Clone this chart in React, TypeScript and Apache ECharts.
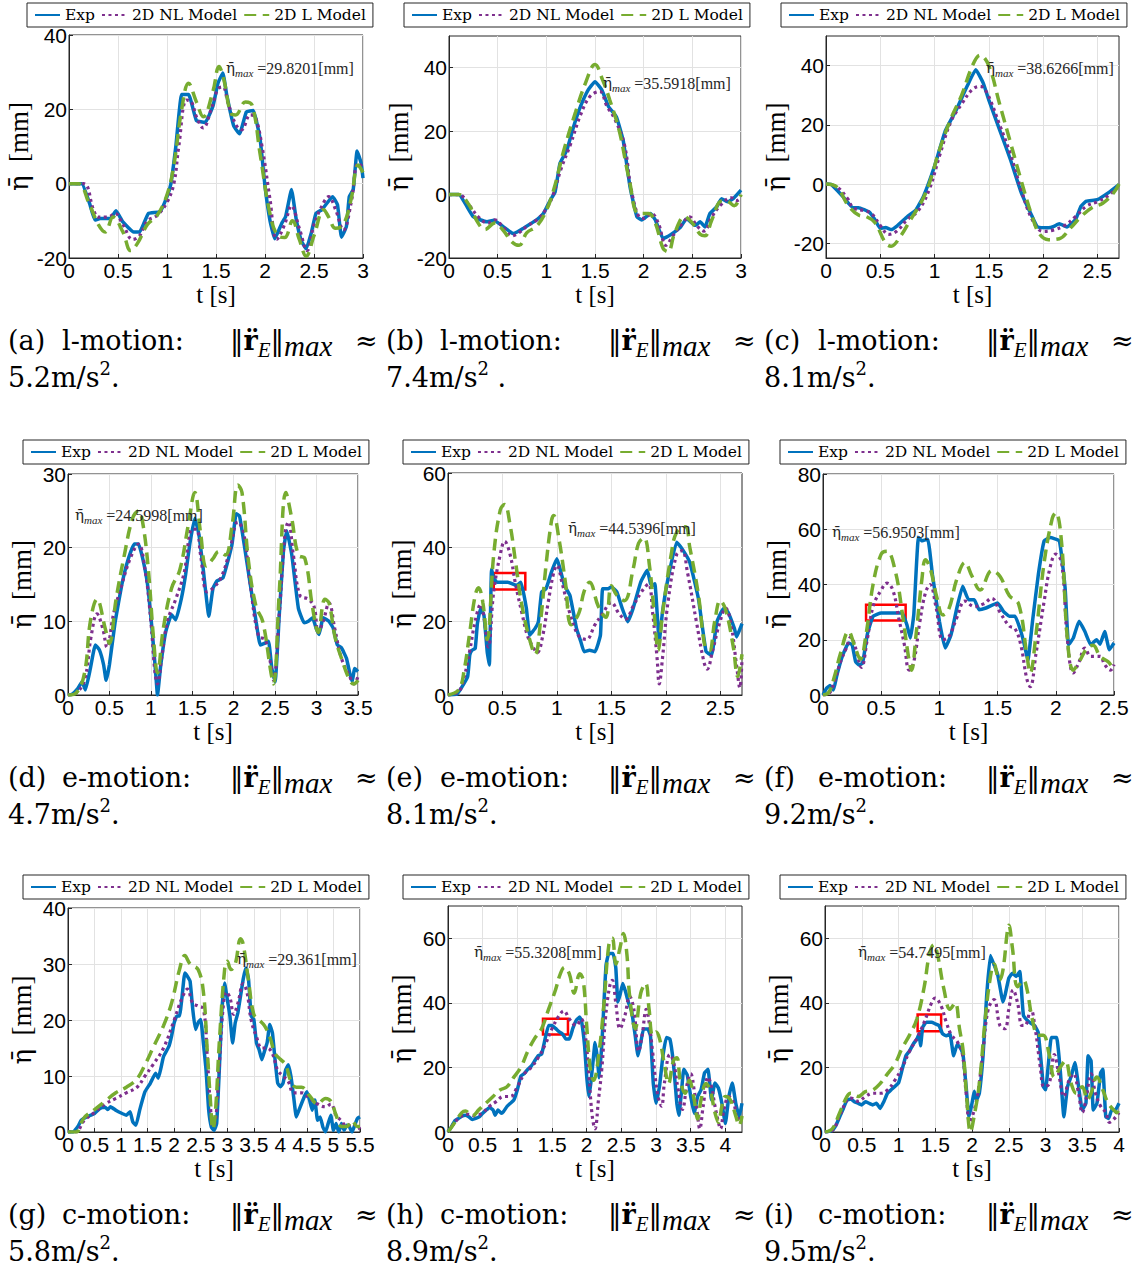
import React, { useEffect, useRef } from 'react';
import * as echarts from 'echarts';

type Pt = [number, number];

// ---------------- data (t [s], eta [mm]) ----------------
const A_EXP: Pt[] = [[0,0],[0.13,0],[0.21,-5.3],[0.265,-9.8],[0.32,-9.4],[0.42,-9.4],[0.48,-7.3],[0.55,-10.3],[0.66,-13],[0.72,-13],[0.81,-8],[0.93,-7.5],[1.0,-3.5],[1.04,0],[1.09,10],[1.15,24],[1.22,24],[1.3,17],[1.39,16.5],[1.47,21],[1.52,27],[1.57,29.8],[1.61,23.8],[1.68,15.6],[1.74,13.4],[1.81,19.3],[1.88,19.7],[1.95,12],[2.0,-0.7],[2.05,-9.8],[2.1,-14.8],[2.17,-10.7],[2.21,-8.9],[2.27,-1.6],[2.32,-9.8],[2.37,-15.3],[2.42,-17.5],[2.47,-13.5],[2.52,-8],[2.58,-7],[2.69,-3.5],[2.74,-5.7],[2.78,-14.4],[2.83,-11.6],[2.86,-3.5],[2.9,-1.6],[2.94,8.8],[2.98,5.6],[3.0,1.5]];
const A_NL: Pt[] = [[0,0],[0.15,0],[0.25,-7],[0.3,-9],[0.4,-9],[0.47,-8],[0.55,-11],[0.65,-15],[0.72,-14],[0.8,-10],[0.9,-8.5],[1.0,-5],[1.07,0],[1.12,10],[1.2,22.5],[1.25,22],[1.3,18],[1.37,15],[1.45,20],[1.52,25.5],[1.57,26],[1.62,22],[1.7,16],[1.76,14.5],[1.85,18.5],[1.9,18],[1.97,10],[2.05,-4],[2.12,-15],[2.2,-11],[2.27,-6],[2.35,-12],[2.43,-18],[2.5,-11],[2.6,-5],[2.65,-3.5],[2.72,-7],[2.8,-12.5],[2.88,-5],[2.95,5.5],[3.0,4.5]];
const A_L: Pt[] = [[0,0],[0.1,0],[0.2,-5],[0.3,-11],[0.37,-13],[0.45,-9],[0.55,-13],[0.63,-18],[0.7,-16],[0.8,-11],[0.9,-8.5],[1.0,-3],[1.07,5],[1.15,20],[1.22,27],[1.3,22],[1.37,18],[1.47,25],[1.53,31.5],[1.58,28],[1.65,19],[1.7,18.5],[1.8,22],[1.87,21],[1.95,8],[2.05,-8],[2.13,-14],[2.2,-14.5],[2.28,-10],[2.35,-15],[2.42,-19.5],[2.5,-14],[2.6,-7],[2.65,-9],[2.72,-12],[2.8,-11],[2.88,-4],[2.95,5],[3.0,3]];

const B_EXP: Pt[] = [[0,0],[0.1,0],[0.25,-7],[0.39,-8.6],[0.46,-8.1],[0.56,-10.2],[0.66,-12.3],[0.7,-11.8],[0.76,-10.7],[0.9,-8],[0.97,-6],[1.04,-1.8],[1.09,0.8],[1.14,9.8],[1.21,14],[1.28,21.4],[1.35,27.7],[1.43,33],[1.5,35.6],[1.57,33],[1.64,27.7],[1.72,24.5],[1.79,17],[1.86,2.4],[1.93,-7],[1.98,-8],[2.07,-6],[2.12,-8],[2.2,-13.9],[2.27,-12.8],[2.38,-10.2],[2.44,-7.6],[2.53,-9.7],[2.58,-8.6],[2.63,-10.2],[2.68,-6],[2.75,-3.9],[2.8,-1.3],[2.86,-2.3],[2.92,-1.3],[3.0,1.4]];
const B_NL: Pt[] = [[0,0],[0.1,0],[0.2,-3],[0.3,-7],[0.4,-9],[0.47,-8],[0.55,-10],[0.65,-13],[0.72,-12],[0.8,-10],[0.9,-8],[1.0,-4.5],[1.07,0],[1.15,8],[1.25,16],[1.35,25],[1.45,31],[1.55,32.5],[1.62,28],[1.7,24],[1.8,16],[1.87,2],[1.95,-7],[2.0,-7.5],[2.08,-6],[2.15,-9],[2.23,-16],[2.3,-13],[2.4,-9],[2.47,-7],[2.55,-10],[2.62,-11.5],[2.7,-7],[2.8,-3],[2.9,-1],[2.95,-2],[3.0,-1]];
const B_L: Pt[] = [[0,0],[0.1,0],[0.2,-3],[0.3,-9],[0.37,-11],[0.47,-9],[0.55,-11],[0.65,-15],[0.72,-16],[0.8,-12],[0.9,-10],[1.0,-5],[1.08,2],[1.18,14],[1.3,26],[1.4,35],[1.5,41],[1.58,36],[1.65,30],[1.75,20],[1.85,5],[1.95,-6],[2.05,-6],[2.12,-9],[2.2,-17],[2.25,-18],[2.32,-12],[2.42,-7],[2.5,-9],[2.58,-12.5],[2.63,-13],[2.7,-8],[2.8,-2],[2.85,-2],[2.93,-3.5],[3.0,0]];

const C_EXP: Pt[] = [[0,0],[0.05,-0.2],[0.15,-4],[0.25,-8],[0.3,-8],[0.4,-9.5],[0.45,-12],[0.5,-15],[0.55,-14.7],[0.6,-15.4],[0.65,-14.3],[0.75,-11],[0.83,-8.7],[0.9,-4],[1.0,6],[1.1,18],[1.2,25],[1.3,33],[1.38,38.6],[1.45,34],[1.5,28.4],[1.6,18.3],[1.7,8.2],[1.8,-3],[1.9,-11],[1.95,-14.5],[2.05,-14.8],[2.1,-14.3],[2.15,-13.4],[2.22,-14.5],[2.3,-12],[2.35,-7.5],[2.4,-5.8],[2.5,-5.3],[2.6,-3],[2.7,-0.2]];
const C_NL: Pt[] = [[0,0],[0.1,-1],[0.2,-5],[0.25,-8],[0.35,-9],[0.42,-10],[0.5,-14],[0.58,-17],[0.65,-16],[0.75,-12],[0.85,-9],[0.95,-2],[1.05,10],[1.15,21],[1.25,27],[1.35,32],[1.42,33],[1.48,31],[1.6,20],[1.7,10],[1.8,-2],[1.9,-12],[2.0,-16],[2.1,-15.5],[2.2,-14],[2.3,-11],[2.4,-7.5],[2.5,-6],[2.6,-4],[2.7,-0.5]];
const C_L: Pt[] = [[0,0],[0.1,-1],[0.2,-7],[0.3,-10.5],[0.37,-11],[0.45,-13],[0.55,-20],[0.6,-21],[0.68,-18],[0.78,-12],[0.88,-6],[0.95,0],[1.05,12],[1.15,22],[1.25,30],[1.35,40],[1.42,43.5],[1.5,40],[1.6,27],[1.7,14],[1.8,1],[1.9,-11],[1.97,-17],[2.05,-18.8],[2.15,-18.5],[2.25,-15],[2.35,-11],[2.45,-8],[2.55,-6.5],[2.65,-3],[2.7,0]];

const D_EXP: Pt[] = [[0,0],[0.05,0.1],[0.12,0.9],[0.17,1.8],[0.21,0.7],[0.27,3.6],[0.33,6.8],[0.38,6.1],[0.43,4.1],[0.46,2],[0.5,4.1],[0.57,10],[0.65,15],[0.72,18.2],[0.8,20.5],[0.85,20.5],[0.9,18.6],[0.96,15],[1.02,8.2],[1.06,2.7],[1.08,0],[1.12,4.1],[1.18,8.6],[1.25,10.9],[1.3,10.2],[1.37,13.2],[1.42,16.4],[1.47,20.5],[1.53,24],[1.58,21.8],[1.63,17.3],[1.7,10.7],[1.75,14.5],[1.8,15.5],[1.87,15.9],[1.93,18.2],[1.98,20.5],[2.03,24.6],[2.07,24.3],[2.12,20.9],[2.2,15],[2.27,10],[2.32,6.8],[2.37,7],[2.42,7.3],[2.46,3.6],[2.5,1.8],[2.55,10.9],[2.6,19.5],[2.64,22.3],[2.7,19.1],[2.78,11.8],[2.85,9.8],[2.9,10],[2.95,10.5],[3.0,8.9],[3.03,8.2],[3.08,10.5],[3.15,10],[3.2,9.1],[3.25,6.8],[3.3,6.4],[3.36,5],[3.4,3],[3.43,1.8],[3.46,3.6],[3.5,3.2]];
const D_NL: Pt[] = [[0,0],[0.1,0.3],[0.2,2],[0.28,8],[0.35,11],[0.42,9],[0.47,6.5],[0.55,11],[0.65,15],[0.75,18.5],[0.85,20.5],[0.93,17],[1.0,10],[1.05,3],[1.08,1.5],[1.13,5],[1.2,10],[1.3,13],[1.4,16.5],[1.5,22.5],[1.55,22.5],[1.6,19],[1.68,14],[1.75,14.5],[1.85,16],[1.95,19.5],[2.05,23.5],[2.12,22],[2.2,15],[2.3,8],[2.38,7.5],[2.45,4],[2.48,2],[2.55,11],[2.62,22],[2.66,23.5],[2.72,19],[2.8,13.5],[2.9,13],[2.97,12],[3.02,8.5],[3.08,10],[3.15,12.5],[3.22,9],[3.3,5],[3.4,2.5],[3.45,1.5],[3.5,2.5]];
const D_L: Pt[] = [[0,0],[0.1,0.3],[0.2,3],[0.27,10],[0.35,13],[0.45,9],[0.5,7],[0.58,13],[0.68,19],[0.78,24],[0.85,25],[0.9,23.5],[0.97,17],[1.03,8],[1.08,3],[1.15,9],[1.25,14.5],[1.35,17],[1.45,23],[1.53,27.5],[1.6,22],[1.67,17.5],[1.75,18.5],[1.82,19.5],[1.9,19],[1.98,23],[2.05,28.5],[2.1,27.5],[2.18,18],[2.27,12],[2.35,10],[2.45,3],[2.48,1.5],[2.55,14],[2.63,27.5],[2.7,24],[2.78,19],[2.86,18.5],[2.95,12],[3.02,8.5],[3.1,13],[3.15,12.5],[3.22,8],[3.3,5],[3.4,2],[3.45,1.5],[3.5,2]];

const E_EXP: Pt[] = [[0,0],[0.08,0.2],[0.12,1.8],[0.18,4.9],[0.2,10.8],[0.22,12.1],[0.25,12.6],[0.27,19.3],[0.3,23.4],[0.33,21.6],[0.36,11.7],[0.38,8.1],[0.4,34],[0.42,31.5],[0.45,30.5],[0.55,30.5],[0.63,29.6],[0.67,30.5],[0.72,23.4],[0.75,16.2],[0.8,18],[0.83,19.8],[0.86,27.9],[0.9,28.7],[0.95,33.2],[1.0,36.8],[1.03,34],[1.07,29.6],[1.12,26.9],[1.18,18],[1.22,14.4],[1.25,11.7],[1.3,12.1],[1.35,11.7],[1.4,16.2],[1.42,28.7],[1.47,28.7],[1.5,29.2],[1.55,27.9],[1.6,23.4],[1.65,19.8],[1.7,23.4],[1.77,30.5],[1.83,33.7],[1.86,30.1],[1.88,29.6],[1.9,30.1],[1.94,14.4],[1.97,22.5],[2.02,31.4],[2.1,41.3],[2.15,39.5],[2.22,35.9],[2.3,26],[2.37,11.7],[2.42,10.8],[2.47,19.8],[2.53,23.4],[2.57,22.5],[2.63,18],[2.65,15.7],[2.7,19.3]];
const E_NL: Pt[] = [[0,0],[0.1,1],[0.15,5],[0.2,12],[0.25,20],[0.3,24.5],[0.33,21],[0.37,13],[0.42,28],[0.48,38],[0.52,41.5],[0.57,38],[0.62,30],[0.68,22],[0.73,16],[0.78,13],[0.82,11.5],[0.87,16],[0.92,25],[0.97,33],[1.0,35],[1.05,30],[1.12,22],[1.2,16],[1.27,15],[1.35,19],[1.42,22],[1.5,25],[1.57,22],[1.63,20.5],[1.7,24],[1.78,28],[1.84,30],[1.88,22],[1.92,10],[1.94,3],[1.97,10],[2.02,25],[2.1,38],[2.15,39],[2.2,33],[2.28,20],[2.35,9],[2.38,7],[2.43,12],[2.5,20],[2.55,23.5],[2.6,19],[2.65,8],[2.68,2],[2.7,10]];
const E_L: Pt[] = [[0,0],[0.1,1.5],[0.15,7],[0.2,17],[0.25,27],[0.28,29],[0.32,25],[0.36,15],[0.42,38],[0.48,50],[0.52,51.5],[0.57,46],[0.62,36],[0.68,24],[0.75,15],[0.8,11],[0.85,20],[0.9,35],[0.95,47],[0.97,48.5],[1.02,42],[1.08,30],[1.13,19],[1.2,22],[1.25,28],[1.3,30.5],[1.38,24],[1.45,21],[1.5,29.5],[1.55,27],[1.62,25.5],[1.7,34],[1.75,41],[1.8,42.5],[1.85,35],[1.9,20],[1.93,12],[1.97,22],[2.05,38],[2.1,44],[2.18,45.5],[2.22,40],[2.3,27],[2.36,13],[2.4,12],[2.45,20],[2.5,25.5],[2.55,23],[2.62,13],[2.66,5],[2.7,11]];

const F_EXP: Pt[] = [[0,0],[0.03,2.4],[0.06,3.4],[0.09,1.8],[0.12,7.3],[0.17,14.5],[0.22,18.8],[0.25,18.2],[0.28,12.1],[0.31,10.9],[0.34,11.5],[0.38,21.8],[0.43,28.5],[0.5,29.7],[0.6,29.7],[0.68,29.7],[0.72,25.5],[0.75,20.6],[0.78,29.1],[0.82,57],[0.85,55.8],[0.9,56.4],[0.94,43.6],[1.0,26.7],[1.05,17],[1.1,21.8],[1.15,31.5],[1.2,39.4],[1.25,34.5],[1.3,34.5],[1.34,30.9],[1.4,31.5],[1.5,33.3],[1.55,30.3],[1.6,28.5],[1.65,28.5],[1.7,23],[1.73,18.2],[1.76,12.5],[1.8,26.7],[1.85,43.6],[1.9,55.8],[1.95,57],[2.03,55.8],[2.08,38.8],[2.11,18.2],[2.15,20.6],[2.2,26.7],[2.25,23],[2.3,18.2],[2.35,20],[2.38,18.4],[2.42,23],[2.46,16.4],[2.5,18.8]];
const F_NL: Pt[] = [[0,0],[0.05,0.5],[0.1,5],[0.15,12],[0.2,17],[0.24,21],[0.28,17],[0.33,10],[0.38,20],[0.43,32],[0.5,38],[0.55,40.5],[0.6,38],[0.65,28],[0.7,18],[0.74,9],[0.78,12],[0.83,26],[0.88,37],[0.92,40],[0.97,32],[1.03,20],[1.08,21],[1.15,28],[1.22,34],[1.3,32],[1.38,33],[1.45,35],[1.52,30],[1.6,25],[1.65,24],[1.7,18],[1.75,6],[1.78,3],[1.83,15],[1.9,34],[1.95,46],[2.0,51],[2.05,48],[2.1,20],[2.15,8],[2.2,12],[2.25,17],[2.3,14],[2.38,14],[2.42,11],[2.47,9],[2.5,11]];
const F_L: Pt[] = [[0,0],[0.05,1],[0.1,7],[0.15,15],[0.22,23],[0.27,18],[0.32,13],[0.37,22],[0.43,40],[0.5,51],[0.55,52],[0.62,45],[0.68,30],[0.73,15],[0.76,9],[0.8,22],[0.85,42],[0.88,49],[0.92,46],[0.98,35],[1.03,29],[1.08,31],[1.15,42],[1.22,48],[1.28,43],[1.35,38],[1.45,45],[1.52,43],[1.6,36],[1.68,33],[1.75,15],[1.78,8],[1.83,22],[1.9,48],[1.97,64],[2.0,66],[2.05,55],[2.1,20],[2.15,9],[2.2,12],[2.27,17],[2.32,18],[2.38,14],[2.45,12],[2.5,9]];

const G_EXP: Pt[] = [[0,0],[0.1,0],[0.2,1.2],[0.25,2.1],[0.35,2.7],[0.5,3.3],[0.6,4.2],[0.7,4.4],[0.75,4],[0.8,4.5],[0.9,3.9],[1.0,3.4],[1.1,3],[1.17,3.6],[1.22,1.8],[1.28,1.2],[1.35,3.9],[1.45,7.2],[1.55,8.7],[1.65,10.5],[1.7,9.6],[1.75,11.4],[1.8,13.5],[1.9,15.3],[1.95,17.1],[2.0,19.5],[2.05,20.7],[2.1,20.7],[2.15,24.3],[2.2,28.4],[2.25,27.8],[2.3,26.9],[2.35,21.9],[2.4,18.3],[2.45,19.5],[2.5,20.1],[2.55,15.9],[2.6,11.1],[2.65,3.9],[2.7,0.9],[2.75,0.3],[2.8,1.5],[2.85,11.1],[2.9,21.9],[2.95,26.6],[3.0,23.7],[3.05,20.7],[3.1,15.9],[3.15,19.5],[3.2,21.3],[3.3,27.3],[3.35,29.3],[3.4,27.3],[3.45,20.7],[3.5,20.1],[3.55,15.9],[3.6,14.7],[3.65,12.9],[3.7,14.4],[3.75,15.9],[3.8,19.2],[3.85,17.7],[3.9,12.9],[3.95,8.7],[4.0,8.1],[4.05,8.7],[4.1,11.1],[4.15,12],[4.2,9.9],[4.25,6.3],[4.3,2.7],[4.35,3.9],[4.45,6.3],[4.5,7.2],[4.55,5.7],[4.6,3.9],[4.65,5.7],[4.7,2.1],[4.75,2.7],[4.8,0.9],[4.85,0],[4.9,1.5],[4.95,3],[5.0,0.3],[5.05,1.5],[5.1,0],[5.15,1.5],[5.2,0.3],[5.25,1.2],[5.3,0.9],[5.35,0],[5.4,1.2],[5.45,2.4],[5.5,2.7]];
const G_NL: Pt[] = [[0,0],[0.15,0],[0.3,2],[0.5,3.5],[0.7,5],[0.9,6],[1.1,7],[1.3,8],[1.45,10],[1.6,12],[1.8,15],[2.0,20],[2.15,24],[2.25,25.5],[2.35,23],[2.45,22.5],[2.55,22],[2.62,14],[2.68,5],[2.73,1],[2.78,2],[2.85,12],[2.92,22],[2.98,25],[3.05,24],[3.12,21],[3.2,23],[3.3,26.5],[3.37,25],[3.45,20],[3.55,17],[3.65,15],[3.75,15],[3.85,14],[3.95,11],[4.05,10],[4.15,9],[4.25,7],[4.4,7],[4.55,6],[4.7,5],[4.85,4.5],[4.95,5],[5.05,3],[5.15,2],[5.25,1],[5.35,1.5],[5.45,1],[5.5,0.5]];
const G_L: Pt[] = [[0,0],[0.15,0],[0.3,2.5],[0.5,4],[0.7,5.5],[0.9,7],[1.1,8],[1.3,9.5],[1.45,12],[1.6,15],[1.8,19],[1.95,23],[2.1,29],[2.2,31.5],[2.3,30],[2.45,29],[2.55,25],[2.62,15],[2.68,6],[2.73,0.5],[2.78,4],[2.85,16],[2.95,29],[3.0,30.5],[3.07,29],[3.15,30],[3.25,34.5],[3.3,33.5],[3.4,27],[3.5,21],[3.6,20],[3.7,19],[3.8,17],[3.9,14],[4.0,13],[4.1,12],[4.2,9],[4.3,8],[4.4,8],[4.55,6.5],[4.7,5],[4.85,6],[4.95,5.5],[5.05,3],[5.15,1],[5.25,1],[5.35,2],[5.45,1],[5.5,1]];

const H_EXP: Pt[] = [[0,0],[0.05,1.6],[0.1,3.5],[0.15,4.2],[0.2,4.9],[0.25,5.2],[0.3,4.7],[0.35,3.9],[0.4,4.2],[0.45,4.7],[0.5,5.8],[0.55,6.8],[0.6,7.6],[0.65,6.8],[0.68,5.2],[0.72,6.8],[0.77,5.8],[0.8,6.3],[0.85,7.9],[0.9,8.9],[0.95,9.9],[1.0,13.1],[1.05,17.3],[1.1,18.1],[1.15,19.4],[1.2,20.4],[1.25,22],[1.3,23.6],[1.35,24.1],[1.4,28.8],[1.45,33],[1.5,33],[1.55,32.1],[1.6,31.1],[1.65,30.4],[1.7,28.8],[1.75,28.8],[1.8,32.1],[1.85,34.6],[1.9,35.6],[1.93,33.8],[1.97,26.7],[2.0,17.3],[2.03,11],[2.06,15.2],[2.1,23.6],[2.12,27.7],[2.15,23.6],[2.18,16.8],[2.22,27.7],[2.25,40.3],[2.28,51.8],[2.32,55.3],[2.38,55.3],[2.42,50.8],[2.45,40.3],[2.48,42.4],[2.52,46],[2.56,43.5],[2.6,40.3],[2.65,37.2],[2.7,29.8],[2.74,23.6],[2.78,27.7],[2.82,31.9],[2.88,31.9],[2.92,29.8],[2.96,15.2],[3.0,8.9],[3.05,14.1],[3.1,23.6],[3.15,29.3],[3.2,28.8],[3.25,21.5],[3.3,8.9],[3.33,5.2],[3.37,13.1],[3.4,19.4],[3.45,17.7],[3.5,11],[3.55,5.8],[3.6,11],[3.65,13.1],[3.7,18.3],[3.75,19.4],[3.8,9.9],[3.85,15.2],[3.9,13.6],[3.95,8.9],[4.0,2.6],[4.05,11],[4.1,15.2],[4.15,8.9],[4.2,4.7],[4.24,8.9]];
const H_NL: Pt[] = [[0,0],[0.1,3],[0.2,5],[0.3,5.5],[0.4,5],[0.5,6],[0.6,8],[0.7,9.5],[0.8,11],[0.9,11],[1.0,14],[1.1,18],[1.2,20],[1.3,23],[1.4,27],[1.5,32],[1.6,36],[1.67,37.5],[1.75,35],[1.85,33],[1.92,35],[1.98,30],[2.03,18],[2.08,5],[2.12,1],[2.17,10],[2.22,20],[2.27,35],[2.33,45],[2.37,47],[2.42,40],[2.48,32],[2.55,36],[2.62,42],[2.68,38],[2.75,25],[2.8,30],[2.86,38],[2.9,34],[2.95,25],[3.02,12],[3.08,8],[3.12,15],[3.2,24],[3.25,22],[3.32,13],[3.38,7],[3.45,15],[3.5,18],[3.55,13],[3.6,5],[3.63,1],[3.68,8],[3.75,17],[3.8,14],[3.85,8],[3.9,3],[3.93,1],[3.98,7],[4.05,11],[4.12,9],[4.18,4],[4.24,5]];
const H_L: Pt[] = [[0,0],[0.1,3],[0.2,6],[0.25,6.5],[0.35,5],[0.45,7],[0.55,9],[0.65,11],[0.75,13],[0.85,14],[0.95,17],[1.05,20],[1.15,25],[1.25,29],[1.35,32],[1.45,38],[1.55,44],[1.62,49],[1.68,51],[1.75,49],[1.82,43],[1.9,49],[1.95,47],[2.0,33],[2.05,20],[2.1,16],[2.18,25],[2.25,40],[2.32,58],[2.37,60],[2.42,52],[2.48,57],[2.53,61.5],[2.58,55],[2.62,42],[2.7,32],[2.78,43],[2.85,46],[2.9,38],[2.95,30],[3.0,31],[3.05,29],[3.12,21],[3.18,15],[3.25,22],[3.3,23],[3.35,16],[3.42,12],[3.48,16],[3.55,10],[3.6,4],[3.65,10],[3.72,15],[3.78,13],[3.85,6],[3.9,3],[3.95,8],[4.0,11],[4.07,10],[4.15,5],[4.2,2],[4.24,5]];

const I_EXP: Pt[] = [[0,0],[0.1,0.5],[0.15,2.1],[0.2,4.7],[0.25,7.3],[0.3,9.9],[0.35,10.2],[0.4,9.4],[0.45,8.9],[0.5,8.4],[0.55,9.4],[0.6,8.9],[0.65,8.4],[0.7,8.9],[0.75,7.3],[0.8,9.4],[0.85,12],[0.9,13.1],[1.0,15.2],[1.05,19.4],[1.1,23.6],[1.15,25.1],[1.2,27.2],[1.25,28.8],[1.28,30.4],[1.3,26.7],[1.33,32.5],[1.38,34],[1.45,34],[1.5,33.5],[1.55,33],[1.6,30.4],[1.65,29.8],[1.7,30.4],[1.75,23.6],[1.8,27.2],[1.85,25.7],[1.88,23.6],[1.92,14.1],[1.96,4.7],[2.0,8.9],[2.03,12.6],[2.06,9.9],[2.1,12],[2.15,23.6],[2.2,42.4],[2.25,54.7],[2.3,51.8],[2.35,48.7],[2.4,42.4],[2.42,40.3],[2.45,42.4],[2.5,47.6],[2.55,49.2],[2.6,48.2],[2.65,49.7],[2.7,36.1],[2.78,34],[2.85,33],[2.9,30.9],[2.95,19.4],[2.97,14.1],[3.0,13.1],[3.05,23.6],[3.08,29.3],[3.15,29.3],[3.2,19.4],[3.25,4.7],[3.3,14.1],[3.35,17.3],[3.4,21.5],[3.45,14.1],[3.5,6.8],[3.55,8.9],[3.58,23.6],[3.62,22],[3.65,6.8],[3.7,8.9],[3.75,18.3],[3.78,19.4],[3.82,4.7],[3.86,4.2],[3.9,6.8],[3.95,6.8],[4.0,8.9]];
const I_NL: Pt[] = [[0,0],[0.1,0.5],[0.2,5],[0.3,10],[0.35,10.5],[0.45,9.5],[0.55,11],[0.65,12],[0.75,12],[0.85,13],[0.95,16],[1.05,20],[1.15,25],[1.25,29],[1.35,34],[1.45,40],[1.5,41.5],[1.58,39],[1.65,34],[1.72,30],[1.8,28],[1.87,24],[1.92,12],[1.97,3],[2.02,6],[2.08,12],[2.15,25],[2.22,38],[2.3,41],[2.38,33],[2.45,32],[2.5,38],[2.56,44],[2.62,40],[2.68,33],[2.72,33],[2.8,38],[2.86,32],[2.93,20],[2.98,14],[3.05,15],[3.12,24],[3.18,18],[3.25,11],[3.32,16],[3.38,18],[3.45,12],[3.5,6],[3.55,10],[3.62,18],[3.68,12],[3.75,8],[3.82,6],[3.87,3],[3.93,4],[4.0,6]];
const I_L: Pt[] = [[0,0],[0.1,1],[0.2,6],[0.3,11],[0.35,12],[0.45,11],[0.55,12.5],[0.65,13],[0.75,15],[0.85,18],[0.95,21],[1.05,26],[1.15,30],[1.25,35],[1.35,45],[1.42,55],[1.48,58],[1.53,55],[1.62,44],[1.7,38],[1.77,40],[1.83,32],[1.88,25],[1.93,10],[1.98,0],[2.03,5],[2.1,15],[2.18,35],[2.25,48],[2.3,52],[2.37,47],[2.42,50],[2.48,62],[2.5,64],[2.55,57],[2.62,45],[2.7,47],[2.75,44],[2.82,35],[2.9,30],[2.97,30],[3.05,24],[3.12,17],[3.2,20],[3.27,22],[3.35,15],[3.42,12],[3.5,14],[3.57,10],[3.62,12],[3.7,17],[3.78,13],[3.85,9],[3.92,7],[3.97,6],[4.0,7]];

const SERIES_NAMES = ['Exp', '2D NL Model', '2D L Model'];
const PANEL_DATA: Pt[][][] = [
  [A_EXP, A_NL, A_L], [B_EXP, B_NL, B_L], [C_EXP, C_NL, C_L],
  [D_EXP, D_NL, D_L], [E_EXP, E_NL, E_L], [F_EXP, F_NL, F_L],
  [G_EXP, G_NL, G_L], [H_EXP, H_NL, H_L], [I_EXP, I_NL, I_L],
];
const X_MAX = [3, 3, 2.7, 3.5, 2.7, 2.5, 5.5, 4.24, 4];
const X_TICKS = [
  [0, 0.5, 1, 1.5, 2, 2.5, 3],
  [0, 0.5, 1, 1.5, 2, 2.5, 3],
  [0, 0.5, 1, 1.5, 2, 2.5],
  [0, 0.5, 1, 1.5, 2, 2.5, 3, 3.5],
  [0, 0.5, 1, 1.5, 2, 2.5],
  [0, 0.5, 1, 1.5, 2, 2.5],
  [0, 0.5, 1, 1.5, 2, 2.5, 3, 3.5, 4, 4.5, 5, 5.5],
  [0, 0.5, 1, 1.5, 2, 2.5, 3, 3.5, 4],
  [0, 0.5, 1, 1.5, 2, 2.5, 3, 3.5, 4],
];
const Y_MIN = [-20, -20, -25, 0, 0, 0, 0, 0, 0];
const Y_MAX = [40, 50, 50, 30, 60, 80, 40, 70, 70];
const Y_TICKS = [
  [-20, 0, 20, 40], [-20, 0, 20, 40], [-20, 0, 20, 40],
  [0, 10, 20, 30], [0, 20, 40, 60], [0, 20, 40, 60, 80],
  [0, 10, 20, 30, 40], [0, 20, 40, 60], [0, 20, 40, 60],
];
const ETA_MAX = ['29.8201', '35.5918', '38.6266', '24.5998', '44.5396', '56.9503', '29.361', '55.3208', '54.7495'];
// highlighted boxes [t0, y0, t1, y1]
const BOXES: (number[] | null)[] = [
  null, null, null,
  null, [0.42, 28.5, 0.71, 33], [0.37, 27, 0.71, 32.7],
  null, [1.37, 30.2, 1.73, 35.1], [1.26, 31.2, 1.58, 36.4],
];
const TAGS = ['(a)', '(b)', '(c)', '(d)', '(e)', '(f)', '(g)', '(h)', '(i)'];
const MOTIONS = ['l-motion:', 'l-motion:', 'l-motion:', 'e-motion:', 'e-motion:', 'e-motion:', 'c-motion:', 'c-motion:', 'c-motion:'];
const ACCEL_VAL = ['5.2', '7.4', '8.1', '4.7', '8.1', '9.2', '5.8', '8.9', '9.5'];
const ACCEL_END = ['.', ' .', '.', '.', '.', '.', '.', '.', '.'];

// ---------------- layout ----------------
const GRIDS = [
  { l: 69, t: 35, w: 294, h: 223 }, { l: 449, t: 36, w: 292, h: 222 }, { l: 826, t: 36, w: 293, h: 222 },
  { l: 68, t: 474, w: 290, h: 221 }, { l: 448, t: 473, w: 294, h: 222 }, { l: 823, t: 474, w: 291, h: 221 },
  { l: 68, t: 908, w: 292, h: 224 }, { l: 448, t: 906, w: 294, h: 226 }, { l: 825, t: 906, w: 294, h: 226 },
];
const LEGEND_POS = [
  [27, 3], [404, 3], [781, 3],
  [23, 440], [403, 440], [780, 440],
  [23, 875], [403, 875], [780, 875],
];
const NOTE_POS = [
  [226, 68], [603, 83], [986, 68],
  [75, 515], [568, 528], [832, 532],
  [237, 959], [474, 952], [858, 952],
];
const COL_X = [8, 386, 764];
const ROW_Y = [340, 777, 1214];

const COLORS = ['#0072BD', '#7E2F8E', '#77AC30'];
const AX = '#262626';

function buildOption() {
  const grid = GRIDS.map((g) => ({
    left: g.l, top: g.t, width: g.w, height: g.h,
    show: true, borderColor: AX, borderWidth: 1, backgroundColor: 'transparent',
    containLabel: false, outerBoundsMode: 'none',
  }));
  const splitLine = { show: true, lineStyle: { color: '#e2e2e2', width: 1 } };
  const xAxis = GRIDS.map((_, i) => ({
    type: 'value', gridIndex: i, min: 0, max: X_MAX[i],
    axisLine: { show: true, onZero: false, lineStyle: { color: AX } },
    axisTick: { show: true, inside: true, length: 4, customValues: X_TICKS[i], lineStyle: { color: AX } },
    axisLabel: { customValues: X_TICKS[i], color: '#000', fontFamily: 'Liberation Sans', fontSize: 21, margin: 2 },
    splitLine,
    name: 't [s]', nameLocation: 'middle', nameGap: 22,
    nameTextStyle: { fontFamily: 'Liberation Serif', fontSize: 25, color: '#000' },
  }));
  const yAxis = GRIDS.map((_, i) => ({
    type: 'value', gridIndex: i, min: Y_MIN[i], max: Y_MAX[i],
    axisLine: { show: true, onZero: false, lineStyle: { color: AX } },
    axisTick: { show: true, inside: true, length: 4, customValues: Y_TICKS[i], lineStyle: { color: AX } },
    axisLabel: { customValues: Y_TICKS[i], color: '#000', fontFamily: 'Liberation Sans', fontSize: 21, margin: 2 },
    splitLine,
    name: '{e|η̄}  [mm]', nameLocation: 'middle', nameGap: 33, nameRotate: 90,
    nameTextStyle: {
      fontFamily: 'Liberation Serif', fontSize: 27, color: '#000',
      rich: { e: { fontFamily: 'DejaVu Serif', fontSize: 26, color: '#000' } },
    },
  }));
  const lineStyles = [
    { color: COLORS[0], width: 3.5, type: 'solid' },
    { color: COLORS[1], width: 3.2, type: [3, 3.5], cap: 'butt' },
    { color: COLORS[2], width: 3.5, type: [12, 6.5], cap: 'butt' },
  ];
  const smooth = [0.12, 0.4, 0.4];
  const series: any[] = [];
  PANEL_DATA.forEach((trio, i) => {
    trio.forEach((data, k) => {
      const s: any = {
        type: 'line', name: SERIES_NAMES[k], xAxisIndex: i, yAxisIndex: i,
        data, symbol: 'none', showSymbol: false, smooth: smooth[k],
        lineStyle: lineStyles[k], itemStyle: { color: COLORS[k] },
        emphasis: { disabled: true }, silent: true, z: 2 + k,
      };
      const b = BOXES[i];
      if (k === 0 && b) {
        s.markArea = {
          silent: true,
          itemStyle: { color: 'rgba(0,0,0,0)', borderColor: '#ff0000', borderWidth: 2.5 },
          label: { show: false },
          data: [[{ coord: [b[0], b[1]] }, { coord: [b[2], b[3]] }]],
        };
      }
      series.push(s);
    });
  });
  const legend = LEGEND_POS.map((p) => ({
    left: p[0], top: p[1], orient: 'horizontal', data: SERIES_NAMES,
    itemWidth: 25, itemHeight: 12, itemGap: 6, padding: [4, 7],
    itemStyle: { color: 'rgba(0,0,0,0)', borderWidth: 0, borderColor: 'rgba(0,0,0,0)', opacity: 0 },
    borderColor: AX, borderWidth: 1, backgroundColor: '#fff', selectedMode: false,
    textStyle: { fontFamily: 'DejaVu Serif', fontSize: 15.5, color: '#000' },
  }));
  const graphic: any[] = [];
  NOTE_POS.forEach((p, i) => {
    graphic.push({
      type: 'text', x: p[0], y: p[1], silent: true, z: 100,
      style: {
        text: `{e|η̄}{s|max} =${ETA_MAX[i]}[mm]`,
        fontFamily: 'Liberation Serif', fontSize: 16, lineHeight: 20, fill: '#262626', verticalAlign: 'middle',
        rich: {
          e: { fontFamily: 'DejaVu Serif', fontSize: 15, lineHeight: 20 },
          s: { fontFamily: 'Liberation Serif', fontStyle: 'italic', fontSize: 11, lineHeight: 13, verticalAlign: 'bottom' },
        },
      },
    });
  });
  const capFont = { fontFamily: 'DejaVu Serif', fontSize: 27, fill: '#000', verticalAlign: 'middle', lineHeight: 40 };
  TAGS.forEach((tag, i) => {
    const x0 = COL_X[i % 3];
    const y0 = ROW_Y[Math.floor(i / 3)];
    graphic.push({ type: 'text', x: x0, y: y0, silent: true, style: { ...capFont, text: tag } });
    graphic.push({ type: 'text', x: x0 + 54, y: y0, silent: true, style: { ...capFont, text: MOTIONS[i] } });
    graphic.push({
      type: 'text', x: x0 + 222, y: y0, silent: true,
      style: {
        ...capFont, text: '‖{b|r̈}{e|E}‖{m|max}',
        rich: {
          b: { fontFamily: 'DejaVu Serif', fontWeight: 'bold', fontSize: 27, lineHeight: 40 },
          e: { fontFamily: 'Liberation Serif', fontStyle: 'italic', fontSize: 21, lineHeight: 24, verticalAlign: 'bottom' },
          m: { fontFamily: 'Liberation Serif', fontStyle: 'italic', fontSize: 29, lineHeight: 38, verticalAlign: 'bottom' },
        },
      },
    });
    graphic.push({ type: 'text', x: x0 + 347, y: y0, silent: true, style: { ...capFont, text: '≈' } });
    graphic.push({
      type: 'text', x: x0, y: y0 + 37, silent: true,
      style: {
        ...capFont, text: `${ACCEL_VAL[i]}m/s{p|2}${ACCEL_END[i]}`,
        rich: { p: { fontFamily: 'DejaVu Serif', fontSize: 18, lineHeight: 40, verticalAlign: 'top', padding: [2, 0, 0, 0] } },
      },
    });
  });
  return { animation: false, backgroundColor: '#fff', grid, xAxis, yAxis, series, legend, graphic };
}

export default function App() {
  const ref = useRef<HTMLDivElement>(null);
  useEffect(() => {
    if (!ref.current) return;
    const chart = echarts.init(ref.current, undefined, { renderer: 'svg' });
    chart.setOption(buildOption() as any);
    return () => chart.dispose();
  }, []);
  return (
    <div
      ref={ref}
      style={{ position: 'absolute', left: 0, top: 0, width: 1137, height: 1268, background: '#fff' }}
    />
  );
}
